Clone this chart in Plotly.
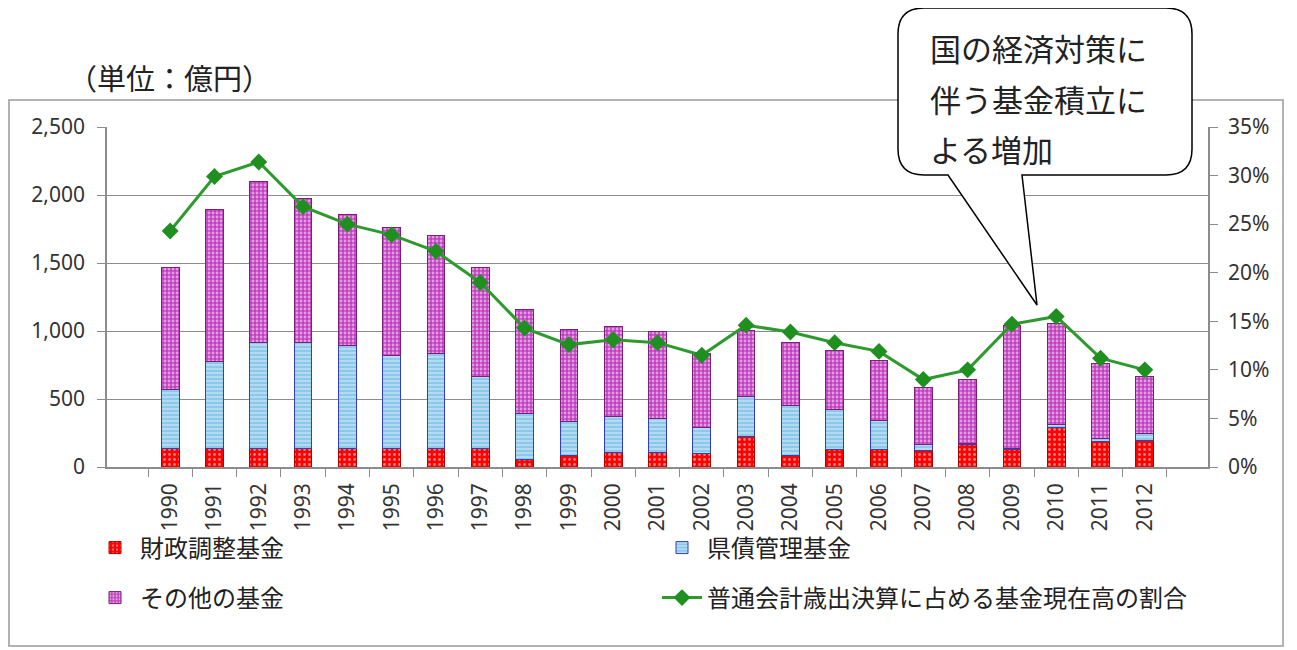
import plotly.graph_objects as go

years = [str(y) for y in range(1990, 2013)]
zaisei = [135, 135, 135, 135, 135, 135, 135, 135, 57, 85, 108, 108, 96, 223, 81, 130, 130, 118, 162, 130, 289, 186, 193]
kensai = [436, 644, 782, 780, 757, 683, 696, 529, 338, 248, 267, 245, 196, 294, 368, 296, 210, 44, 12, 5, 20, 25, 55]
sonota = [897, 1118, 1179, 1061, 961, 942, 868, 804, 765, 679, 657, 642, 539, 490, 468, 429, 442, 424, 473, 904, 748, 551, 421]
ratio = [24.3, 29.9, 31.4, 26.8, 25.0, 23.9, 22.2, 19.0, 14.3, 12.6, 13.1, 12.8, 11.5, 14.6, 13.9, 12.8, 11.9, 9.0, 10.0, 14.7, 15.5, 11.2, 10.0]

names = ["財政調整基金", "県債管理基金", "その他の基金", "普通会計歳出決算に占める基金現在高の割合"]
y_ticks = [0, 500, 1000, 1500, 2000, 2500]
y2_ticks = [0, 5, 10, 15, 20, 25, 30, 35]
y2_labels = ["0%", "5%", "10%", "15%", "20%", "25%", "30%", "35%"]
callout_lines = ["国の経済対策に", "伴う基金積立に", "よる増加"]

OFF = 8  # page body margin
W, H = 1297 - OFF, 650 - OFF
L, R, T, B = 107, 1208, 127, 467  # plot area in page pixels
FONT = "Noto Sans CJK JP, Noto Sans, sans-serif"
NUMFONT = "Noto Sans, sans-serif"


def px(x):
    return (x - L) / (R - L)


def py(y):
    return (B - y) / (B - T)


fig = go.Figure()
fig.add_trace(go.Bar(
    x=years, y=zaisei, name=names[0], legend="legend", showlegend=True,
    marker=dict(color="#ff0000", line=dict(color="#b00000", width=1),
                pattern=dict(shape=".", fgcolor="#ffffff", bgcolor="#ff0000", size=5, solidity=0.25)),
))
fig.add_trace(go.Bar(
    x=years, y=kensai, name=names[1], legend="legend2", showlegend=True,
    marker=dict(color="#9fd4ef", line=dict(color="#2f3fbf", width=1),
                pattern=dict(shape="-", fgcolor="#ffffff", bgcolor="#8cc8ea", size=4, solidity=0.35)),
))
fig.add_trace(go.Bar(
    x=years, y=sonota, name=names[2], legend="legend3", showlegend=True,
    marker=dict(color="#c040c0", line=dict(color="#7a1f7a", width=1),
                pattern=dict(shape=".", fgcolor="#ffffff", bgcolor="#c040c0", size=4, solidity=0.4)),
))
fig.add_trace(go.Scatter(
    x=years, y=ratio, name=names[3], yaxis="y2", legend="legend4", showlegend=True,
    mode="lines+markers",
    line=dict(color="#2e9a2e", width=3),
    marker=dict(symbol="diamond", size=13, color="#1f8f1f"),
))

# chart frame
shapes = [dict(type="rect", xref="paper", yref="paper",
               x0=px(9), x1=px(1283), y0=py(100), y1=py(646),
               line=dict(color="#9a9a9a", width=1.5), fillcolor="rgba(0,0,0,0)", layer="below")]

# callout bubble
bx0, bx1, by0, by1, r = 898, 1192, 8, 175, 26
t1, t2, tipx, tipy = 948, 1022, 1037, 305


def P(x, y):
    return f"{px(x):.5f},{py(y):.5f}"


path = (f"M {P(bx0 + r, by0)} L {P(bx1 - r, by0)} Q {P(bx1, by0)} {P(bx1, by0 + r)} "
        f"L {P(bx1, by1 - r)} Q {P(bx1, by1)} {P(bx1 - r, by1)} L {P(t2, by1)} L {P(tipx, tipy)} "
        f"L {P(t1, by1)} L {P(bx0 + r, by1)} Q {P(bx0, by1)} {P(bx0, by1 - r)} "
        f"L {P(bx0, by0 + r)} Q {P(bx0, by0)} {P(bx0 + r, by0)} Z")
shapes.append(dict(type="path", xref="paper", yref="paper", path=path,
                   line=dict(color="#000000", width=1.5), fillcolor="#ffffff", layer="above"))

annotations = [
    dict(text="（単位：億円）", xref="paper", yref="paper", x=px(66), y=py(77),
         xanchor="left", yanchor="middle", showarrow=False,
         font=dict(family=FONT, size=29, color="#222222")),
]
for i, line in enumerate(callout_lines):
    annotations.append(dict(text=line, xref="paper", yref="paper",
                            x=px(928), y=py(48 + 50 * i), xanchor="left", yanchor="middle",
                            showarrow=False, font=dict(family=FONT, size=31, color="#222222")))

leg_common = dict(orientation="h", xanchor="left", yanchor="middle", itemwidth=40,
                  font=dict(family=FONT, size=24, color="#222222"), bgcolor="rgba(0,0,0,0)")

fig.update_layout(
    width=W, height=H, showlegend=True,
    margin=dict(l=L - OFF, r=W - (R - OFF), t=T - OFF, b=H - (B - OFF), autoexpand=False),
    paper_bgcolor="#ffffff", plot_bgcolor="#ffffff",
    barmode="stack", bargap=0.6,
    font=dict(family=FONT, color="#333333"),
    xaxis=dict(type="category", tickangle=-90, tickfont=dict(family=NUMFONT, size=21, color="#333333"),
               showline=True, linecolor="#8c8c8c", linewidth=1.5,
               ticks="outside", tickson="boundaries", ticklen=8, tickcolor="#8c8c8c",
               ticklabelstandoff=6, showgrid=False),
    yaxis=dict(range=[0, 2500], tickvals=y_ticks, tickformat=",",
               tickfont=dict(family=NUMFONT, size=21, color="#333333"),
               showline=True, linecolor="#8c8c8c", linewidth=1.5,
               ticks="outside", ticklen=8, tickcolor="#8c8c8c", ticklabelstandoff=8,
               showgrid=True, gridcolor="#8c8c8c", gridwidth=1.2, zeroline=False),
    yaxis2=dict(range=[0, 35], tickvals=y2_ticks, ticktext=y2_labels, overlaying="y", side="right",
                tickfont=dict(family=NUMFONT, size=21, color="#333333"),
                showline=True, linecolor="#8c8c8c", linewidth=1.5,
                ticks="outside", ticklen=8, tickcolor="#8c8c8c", ticklabelstandoff=6,
                showgrid=False, zeroline=False),
    legend=dict(x=px(90), y=py(548), **leg_common),
    legend2=dict(x=px(657), y=py(548), **leg_common),
    legend3=dict(x=px(90), y=py(598), **leg_common),
    legend4=dict(x=px(657), y=py(598), **leg_common),
    shapes=shapes,
    annotations=annotations,
)

fig.write_html("out.html")
